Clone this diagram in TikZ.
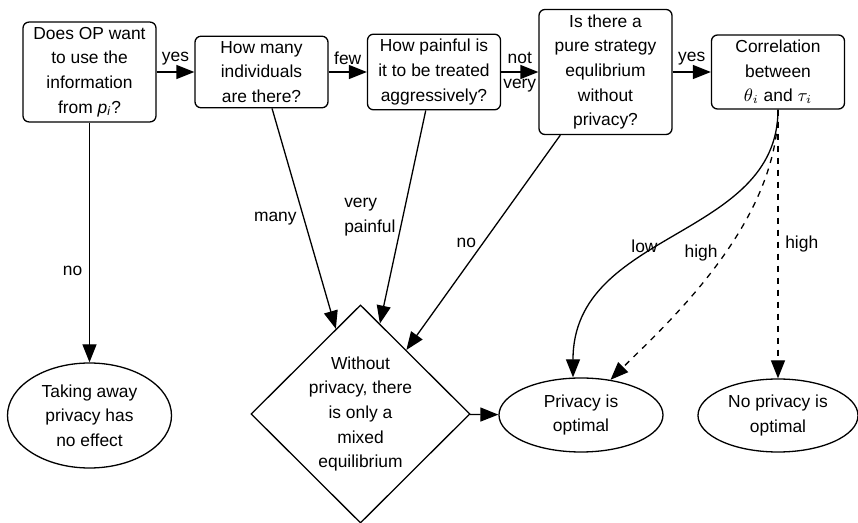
\documentclass[tikz,border=0pt]{standalone}
\usepackage{amsmath,amssymb}
\usepackage{fontspec}
\setmainfont{Liberation Sans}
\usepackage{tikz}
\usetikzlibrary{shapes.geometric, arrows.meta}

\begin{document}
\begin{tikzpicture}[x=0.5pt, y=-0.5pt, line width=0.65pt,
  font=\fontsize{8.7}{12.35}\selectfont,
  question/.style={draw, rounded corners=3pt, align=center, minimum width=66.5pt, inner xsep=1pt, inner ysep=2.5pt},
  decision/.style={draw, diamond, align=center, inner sep=0pt, minimum width=109.5pt, minimum height=108pt},
  outcome/.style={draw, ellipse, align=center, inner sep=1pt},
  arr/.style={-{Triangle[length=9pt, width=7pt]}}]
\useasboundingbox (0,0) rectangle (858,523);
\node [question] (does) at (89.5,72) {Does OP want\\to use the\\information\\from \textit{p}\textsubscript{\textit{i}}?};
\node [question] (many) at (261.5,72) {How many\\individuals\\are there?};
\node [question] (painful) at (434,72) {How painful is\\it to be treated\\aggressively?};
\node [question] (pure) at (605.5,72) {Is there a\\pure strategy\\equlibrium\\without\\privacy?};
\node [question] (corr) at (778,72) {Correlation\\between\\$\theta_i$ and $\tau_i$};
\node [decision] (mixed) at (360.5,414) {Without\\privacy, there\\is only a\\mixed\\equilibrium};
\node [outcome, minimum width=82pt, minimum height=52.5pt] (noeffect) at (89.5,415.5) {Taking away\\privacy has\\no effect};
\node [outcome, minimum width=82pt, minimum height=37pt] (priv) at (581,415) {Privacy is\\optimal};
\node [outcome, minimum width=80pt, minimum height=36.5pt] (nopriv) at (778,415.5) {No privacy is\\optimal};
\draw [arr] (does) -- node[above] {yes} (many);
\draw [arr] (many) -- node[above] {few} (painful);
\draw [arr] (painful) -- node[align=center] {not\\very} (pure);
\draw [arr] (pure) -- node[above] {yes} (corr);
\draw [arr] (does) -- node[pos=0.62, left] {no} (noeffect);
\draw [arr] (many) -- node[midway, left] {many} (mixed);
\draw [arr] (painful) -- node[midway, left, align=left] {very\\painful} (mixed);
\draw [arr] (pure) -- node[midway, left] {no} (mixed);
\draw [arr] (mixed) -- (priv);
\draw [arr] (corr.south) .. controls +(0,130) and +(0,-148) .. node[pos=0.55, left, inner sep=1pt] {low} ([xshift=-4pt]priv.north);
\draw [arr, dashed] (corr.south) .. controls +(0,115) and +(54,-54) .. node[pos=0.45, left] {high} (priv.50);
\draw [arr, dashed] (corr) -- node[midway, right] {high} (nopriv);
\end{tikzpicture}
\end{document}
